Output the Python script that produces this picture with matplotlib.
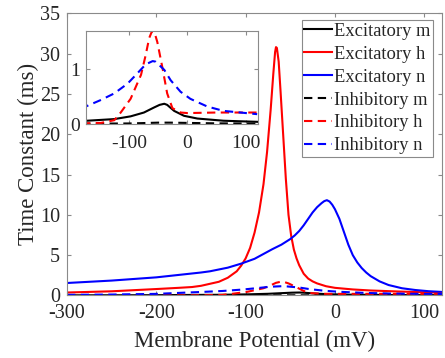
import numpy as np
import matplotlib
matplotlib.use('Agg')
import matplotlib.pyplot as plt

plt.rcParams['font.family'] = ['Liberation Serif', 'DejaVu Serif']
plt.rcParams['axes.unicode_minus'] = False

# values (membrane potential in mV, time constant in ms)
v_exc_m = [-300, -250, -200, -173, -126, -98, -75, -58, -48, -40, -35, -23, -6, 17, 62, 120]
t_exc_m = [0.02, 0.03, 0.04, 0.06, 0.09, 0.14, 0.21, 0.30, 0.35, 0.37, 0.35, 0.24, 0.15, 0.10, 0.06, 0.04]

v_exc_h = [-300, -250, -200, -175, -160, -150, -140, -130, -120, -110, -105, -100, -95, -90,
           -85, -80, -76, -72, -69, -67, -66, -65, -63, -61, -58, -55, -52, -49, -46, -43,
           -40, -35, -30, -25, -20, -10, 0, 20, 40, 70, 100, 120]
t_exc_h = [0.37, 0.52, 0.80, 0.95, 1.05, 1.20, 1.45, 1.70, 2.20, 3.00, 3.70, 4.60, 5.90, 7.80,
           10.3, 13.8, 17.8, 23.0, 27.5, 30.2, 30.8, 30.7, 29.0, 25.5, 20.0, 14.5, 10.0, 7.4, 5.7, 4.6,
           3.75, 2.7, 2.1, 1.75, 1.5, 1.15, 0.95, 0.75, 0.62, 0.50, 0.40, 0.35]

v_exc_n = [-300, -250, -200, -150, -140, -120, -105, -90, -80, -70, -60, -50, -45, -40, -35,
           -30, -25, -20, -15, -12, -9, -6, -3, 0, 5, 10, 15, 20, 25, 30, 35, 40, 50, 60, 75,
           90, 105, 120]
t_exc_n = [1.55, 1.85, 2.25, 2.85, 3.00, 3.45, 3.95, 4.55, 5.15, 5.75, 6.30, 7.00, 7.45, 8.00, 8.70,
           9.50, 10.3, 10.95, 11.45, 11.7, 11.82, 11.65, 11.25, 10.7, 9.5, 7.9, 6.3, 5.0, 4.1, 3.4,
           2.85, 2.4, 1.75, 1.3, 0.90, 0.68, 0.53, 0.44]

v_inh_m = [-300, -200, -100, -50, -30, 0, 50, 120]
t_inh_m = [0.0, 0.005, 0.01, 0.025, 0.025, 0.02, 0.012, 0.008]

v_inh_h = [-300, -200, -149, -126, -115, -98, -80, -72, -66, -61, -57, -52, -43, -35, -26,
           -12, 0, 50, 120]
t_inh_h = [0.0, 0.005, 0.02, 0.07, 0.21, 0.46, 0.90, 1.26, 1.57, 1.70, 1.68, 1.50, 1.02, 0.56, 0.29,
           0.21, 0.20, 0.21, 0.21]

v_inh_n = [-300, -250, -200, -173, -149, -126, -103, -86, -72, -60, -55, -40, -29, -12, 5,
           34, 62, 120]
t_inh_n = [0.08, 0.12, 0.20, 0.33, 0.44, 0.56, 0.74, 0.93, 1.09, 1.15, 1.14, 0.99, 0.80, 0.59, 0.46,
           0.32, 0.24, 0.18]

labels = ['Excitatory m', 'Excitatory h', 'Excitatory n',
          'Inhibitory m', 'Inhibitory h', 'Inhibitory n']
series = [(v_exc_m, t_exc_m, 'k', '-'), (v_exc_h, t_exc_h, 'r', '-'), (v_exc_n, t_exc_n, 'b', '-'),
          (v_inh_m, t_inh_m, 'k', '--'), (v_inh_h, t_inh_h, 'r', '--'), (v_inh_n, t_inh_n, 'b', '--')]

spine_col = '#8a8a8a'
text_col = '#262626'


def style_axes(a, fs):
    for s in a.spines.values():
        s.set_color(spine_col)
        s.set_linewidth(0.8)
    a.tick_params(direction='in', top=True, right=True, colors=spine_col,
                  labelcolor=text_col, labelsize=fs, length=3, width=0.8)


def draw(a, v, t, c, ls, lab=None):
    if ls == '--':
        a.plot(v, t, color=c, linewidth=1.5, dashes=(4, 2.6), label=lab)
    else:
        a.plot(v, t, color=c, linewidth=1.5, label=lab)


fig = plt.figure(figsize=(4.45, 3.58), dpi=100)
ax = fig.add_axes([0.1506, 0.1746, 0.8429, 0.7884])
for (v, t, c, ls), lab in zip(series, labels):
    draw(ax, v, t, c, ls, lab)
ax.set_xlim(-300, 120)
ax.set_ylim(0, 35)
ax.set_xticks([-300, -200, -100, 0, 100])
ax.set_yticks([0, 5, 10, 15, 20, 25, 30, 35])
style_axes(ax, 14.5)
ax.tick_params(axis='x', pad=6)
ax.tick_params(axis='y', pad=5)
ax.set_xlabel('Membrane Potential (mV)', fontsize=16.5, color=text_col, labelpad=6)
ax.set_ylabel('Time Constant (ms)', fontsize=16.5, color=text_col, labelpad=1)

leg = ax.legend(loc='upper right', bbox_to_anchor=(0.973, 0.944), bbox_transform=fig.transFigure,
                fontsize=13.3, handlelength=1.5, handletextpad=0.1, labelspacing=0.32,
                borderpad=0.15, borderaxespad=0, fancybox=False, framealpha=1)
leg.get_frame().set_edgecolor(spine_col)
leg.get_frame().set_linewidth(0.8)
for txt in leg.get_texts():
    txt.set_color(text_col)

# inset: only the small time constants
axi = fig.add_axes([0.193, 0.6536, 0.3875, 0.2598])
for i in [0, 3, 4, 5]:
    v, t, c, ls = series[i]
    draw(axi, v, t, c, ls)
axi.set_xlim(-175, 122)
axi.set_ylim(0, 1.7)
axi.set_xticks([-100, 0, 100])
axi.set_yticks([0, 1])
style_axes(axi, 14)
axi.tick_params(axis='x', pad=8)
axi.tick_params(axis='y', pad=4)

fig.savefig('out.png', dpi=100)
